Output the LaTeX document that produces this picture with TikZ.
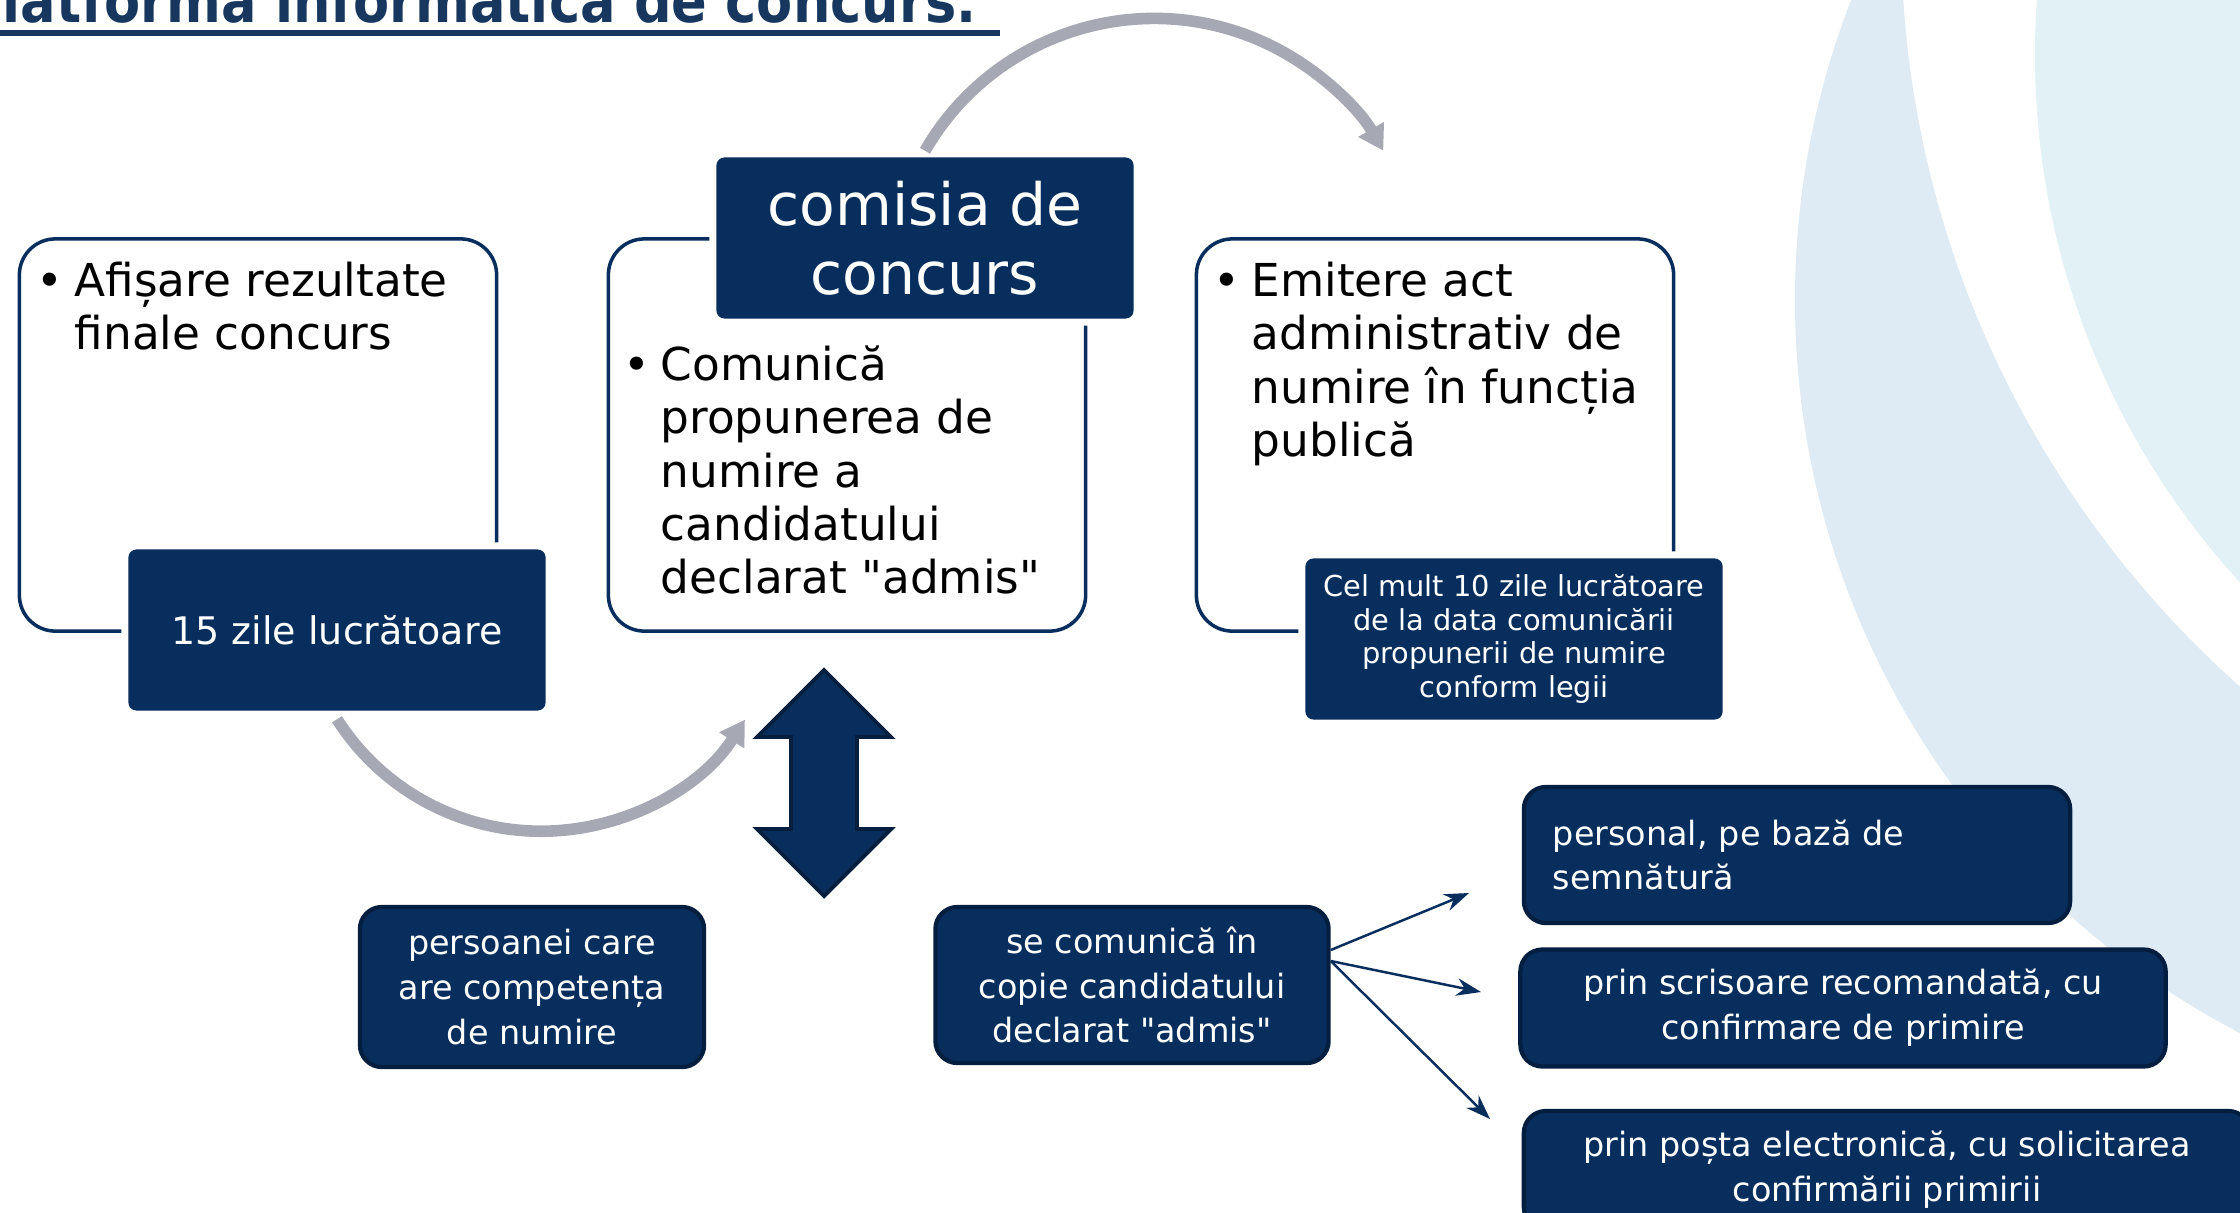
\documentclass[tikz,border=0pt]{standalone}
\usepackage{fontspec}
\setmainfont{DejaVu Sans}[Ligatures=TeXOff]
\usetikzlibrary{arrows.meta,calc}
\definecolor{navy}{RGB}{8,46,94}
\definecolor{navydark}{RGB}{4,30,63}
\definecolor{arrowgray}{RGB}{166,168,180}
\definecolor{titleblue}{RGB}{23,55,94}
\definecolor{bgblue}{RGB}{222,234,244}
\definecolor{bgcyan}{RGB}{225,241,245}
\begin{document}
\begin{tikzpicture}[x=0.01cm,y=-0.01cm,
  whitebox/.style={draw=navy, line width=1pt, fill=white, rounded corners=0.36cm,
    minimum width=4.77cm, minimum height=3.92cm, inner sep=0pt},
  darkbox/.style={fill=navy, rounded corners=0.08cm, minimum width=4.17cm,
    minimum height=1.61cm, text=white, align=center, inner sep=0pt,
    preaction={draw=white, line width=4pt}},
  lowbox/.style={fill=navy, draw=navydark, line width=1.2pt, rounded corners=0.22cm,
    text=white, align=center, inner sep=0pt, font=\fontsize{9.5pt}{12.7pt}\selectfont},
  bodytext/.style={anchor=north west, inner sep=0pt, font=\fontsize{12.9pt}{15.1pt}\selectfont},
  grayarc/.style={draw=arrowgray, line width=3.3pt, -{Triangle[length=7pt,width=8pt]}},
  thinarrow/.style={draw=navy, line width=0.7pt, -{Stealth[length=7pt,width=5pt]}},
]
\useasboundingbox (0,0) rectangle (2240,1212);
\clip (0,0) rectangle (2240,1212);
% background
\fill[white] (0,0) rectangle (2240,1212);
\fill[bgblue] (2621,300) circle (826);
\fill[white] (2910,-68) circle (1009);
\fill[bgcyan] (2816,55) circle (781);

% title (cut off at the top edge, as in the slide)
\node[anchor=base east, inner sep=0pt, text=titleblue,
  font=\bfseries\fontsize{17pt}{20pt}\selectfont\addfontfeature{FakeStretch=0.88}] (title) at (977,22)
  {Platforma informatică de concurs.};
\draw[titleblue, line width=1.7pt] (0,33) -- (1000,33);

% white boxes
\node[whitebox] (b1) at (258,435) {};
\node[whitebox] (b2) at (847,435) {};
\node[whitebox] (b3) at (1435,435) {};

\node[bodytext] (t1) at (36,259) {\begin{tabular}{@{}l@{}l@{}}\makebox[0.38cm][l]{•}&Afișare rezultate\\&finale concurs\end{tabular}};
\node[bodytext] (t2) at (623,343) {\begin{tabular}{@{}l@{}l@{}}\makebox[0.37cm][l]{•}&Comunică\\&propunerea de\\&numire a\\&candidatului\\&declarat "admis"\end{tabular}};
\node[bodytext] (t3) at (1213,259) {\begin{tabular}{@{}l@{}l@{}}\makebox[0.38cm][l]{•}&Emitere act\\&administrativ de\\&numire în funcția\\&publică\end{tabular}};

% dark boxes
\node[darkbox, font=\fontsize{10.8pt}{13pt}\selectfont] (d1) at (337,630) {15 zile lucrătoare};
\node[darkbox, font=\fontsize{16.6pt}{19.6pt}\selectfont] (d2) at (925,238) {comisia de\\concurs};
\node[darkbox, font=\fontsize{8.2pt}{9.5pt}\selectfont] (d3) at (1514,639) {Cel mult 10 zile lucrătoare\\de la data comunicării\\propunerii de numire\\conform legii};

% gray curved arrows
\draw[grayarc] ([yshift=-0.08cm]d1.south) arc[start angle=147.5, end angle=32.6, radius=242];
\draw[grayarc] ([yshift=0.06cm]d2.north) arc[start angle=210, end angle=330, radius=264.6];

% double arrow
\filldraw[fill=navy, draw=navydark, line width=1.1pt, line join=miter]
  (824,670) -- (891,737) -- (857,737) -- (857,829) -- (891,829) -- (824,896)
  -- (757,829) -- (791,829) -- (791,737) -- (757,737) -- cycle;

% bottom boxes
\node[lowbox, minimum width=3.44cm, minimum height=1.60cm] (p1) at (532,987) {persoanei care\\are competența\\de numire};
\node[lowbox, minimum width=3.93cm, minimum height=1.56cm] (sec) at (1132,985) {se comunică în\\copie candidatului\\declarat "admis"};
\node[lowbox, minimum width=5.46cm, minimum height=1.36cm, align=left, text width=4.88cm] (m1) at (1797,855) {personal, pe bază de\\semnătură};
\node[lowbox, minimum width=6.45cm, minimum height=1.17cm] (m2) at (1843,1008) {prin scrisoare recomandată, cu\\confirmare de primire};
\node[lowbox, minimum width=7.26cm, minimum height=1.18cm] (m3) at (1887,1170) {prin poșta electronică, cu solicitarea\\confirmării primirii};

% thin arrows
\coordinate (e1) at (1469,893);
\coordinate (e2) at (1481,992);
\coordinate (e3) at (1490,1119);
\draw[thinarrow] ([yshift=0.35cm]sec.east) -- (e1);
\draw[thinarrow] ([yshift=0.24cm]sec.east) -- (e2);
\draw[thinarrow] ([yshift=0.24cm]sec.east) -- (e3);
\end{tikzpicture}
\end{document}
